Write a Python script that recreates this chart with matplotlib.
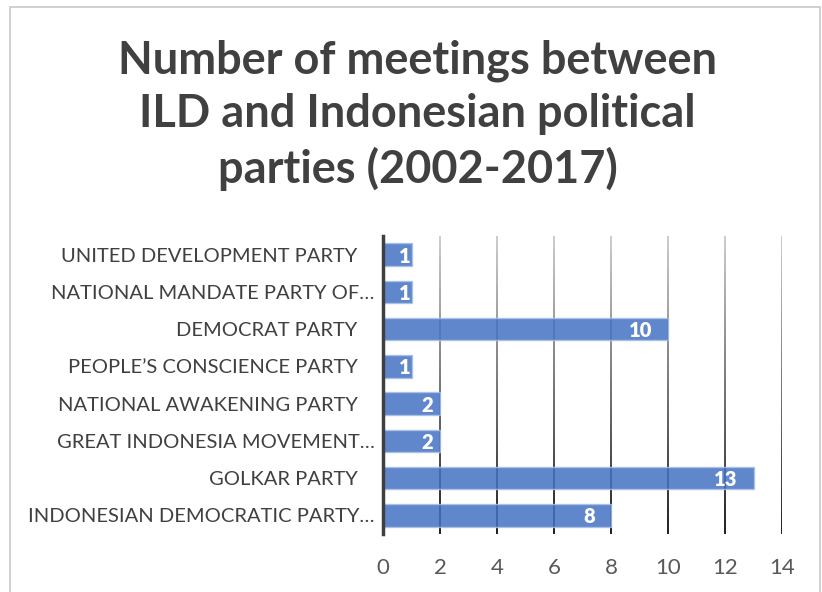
import matplotlib
matplotlib.use("Agg")
import matplotlib.pyplot as plt
import numpy as np
from matplotlib.collections import LineCollection
from matplotlib.transforms import ScaledTranslation

categories = [
    "INDONESIAN DEMOCRATIC PARTY…",
    "GOLKAR PARTY",
    "GREAT INDONESIA MOVEMENT…",
    "NATIONAL AWAKENING PARTY",
    "PEOPLE’S CONSCIENCE PARTY",
    "DEMOCRAT PARTY",
    "NATIONAL MANDATE PARTY OF…",
    "UNITED DEVELOPMENT PARTY",
]
values = [8, 13, 2, 2, 1, 10, 1, 1]
xticks = [0, 2, 4, 6, 8, 10, 12, 14]
title = "Number of meetings between\nILD and Indonesian political\nparties (2002-2017)"

FONT = "Lato"
TXT = "#404040"

fig = plt.figure(figsize=(8.22, 5.92), dpi=100)
fig.patch.set_facecolor("white")

# outer chart frame
frame = plt.Rectangle((10 / 822, -0.01), 810 / 822, 1 - 7 / 592 + 0.01,
                      transform=fig.transFigure, fill=False,
                      edgecolor="#c8c8c8", linewidth=1.2)
fig.add_artist(frame)

ax = fig.add_axes([383 / 822, 1 - 534 / 592, (782 - 383) / 822, (534 - 236) / 592])
y = np.arange(len(categories))

ax.set_xlim(0, 14)
ax.set_ylim(-0.5, len(categories) - 0.5)

# gradient gridlines (light at top, dark at bottom)
nseg = 60
for xt in xticks[1:]:
    ys = np.linspace(ax.get_ylim()[1], ax.get_ylim()[0], nseg + 1)
    segs = [[(xt, ys[i]), (xt, ys[i + 1])] for i in range(nseg)]
    g = np.linspace(0.78, 0.05, nseg)
    cols = [(v, v, v) for v in g]
    lc = LineCollection(segs, colors=cols, linewidths=1.3, zorder=1)
    ax.add_collection(lc)

bars = ax.barh(y, values, height=0.6, color="#4472C4", alpha=0.85,
               edgecolor="#a9c0e8", linewidth=1.0, zorder=2)

fig.canvas.draw()
px_per_unit = (ax.transData.transform((1, 0))[0] - ax.transData.transform((0, 0))[0])
for yi, v in zip(y, values):
    w_px = v * px_per_unit
    gap_px = float(np.clip(1 + (w_px - 28) * 0.215, 1, 16))
    ax.annotate(str(v), xy=(v, yi), xytext=(-gap_px * 0.72, -1), textcoords="offset points",
                ha="right", va="center", color="white", fontsize=14.5,
                fontweight="heavy", family=FONT, zorder=3)

for s in ["top", "right", "bottom"]:
    ax.spines[s].set_visible(False)
ax.spines["left"].set_color(TXT)
ax.spines["left"].set_linewidth(2.5)
ax.spines["left"].set_zorder(4)

ax.set_yticks(y)
ax.set_yticklabels(categories, fontsize=14.5, color=TXT, family=FONT)
ax.set_xticks(xticks)
ax.set_xticklabels([str(t) for t in xticks], fontsize=16, color="#595959", family=FONT)
ax.tick_params(axis="both", length=0)
ax.tick_params(axis="y", pad=6)
ax.tick_params(axis="x", pad=17)

for lab in ax.get_yticklabels():
    if not lab.get_text().endswith("…"):
        lab.set_transform(lab.get_transform() + ScaledTranslation(-0.17, 0, fig.dpi_scale_trans))

fig.text(0.508, 1 - 183 / 592, title, ha="center", va="baseline", fontsize=32.5,
         fontweight="bold", color=TXT, family=FONT, linespacing=1.33)

fig.savefig("out.png", dpi=100, facecolor="white")
